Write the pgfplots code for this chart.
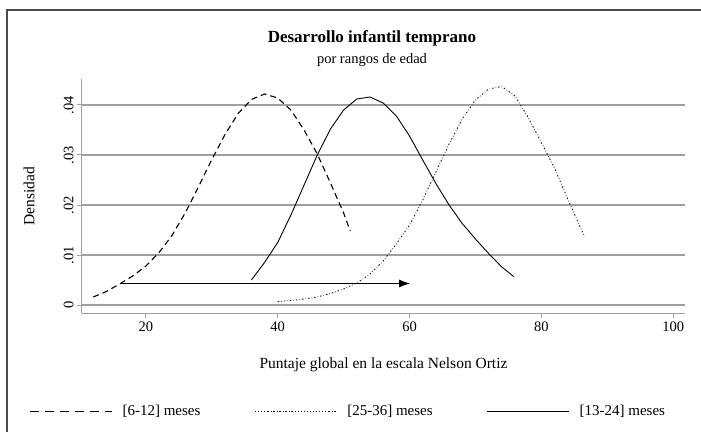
\documentclass[border=0pt]{standalone}
\usepackage{pgfplots}
\pgfplotsset{compat=1.18}
\usepackage{fontspec}
\setmainfont{Liberation Serif}
\usetikzlibrary{arrows.meta}
\begin{document}
\begin{tikzpicture}[x=1pt,y=1pt]
\begin{axis}[
  scale only axis,
  width=603pt, height=234pt,
  xmin=10.3, xmax=101.8, ymin=-0.0016, ymax=0.0452,
  axis x line*=bottom, axis y line*=left,
  axis line style={gray!75, line width=1pt, -},
  xtick={20,40,60,80,100},
  ytick={0,0.01,0.02,0.03,0.04},
  yticklabels={0,.01,.02,.03,.04},
  scaled y ticks=false,
  ymajorgrids, grid style={gray!75, line width=1.3pt},
  tick style={gray!75, line width=1pt},
  tick align=outside, major tick length=5pt,
  /pgf/number format/assume math mode=true,
  ticklabel style={font=\fontsize{14.5}{16}\selectfont},
  yticklabel style={rotate=90, anchor=south},
  xlabel={Puntaje global en la escala Nelson Ortiz},
  ylabel={Densidad},
  label style={font=\fontsize{15.5}{18}\selectfont},
  xlabel style={at={(axis description cs:0.5,-0.175)}, anchor=north},
  ylabel style={at={(axis description cs:-0.073,0.5)}, anchor=south},
  legend columns=3,
  legend style={draw=none, fill=none, at={(0.4415,-0.419)}, anchor=center,
    font=\fontsize{15}{18}\selectfont, inner sep=0pt,
    /tikz/every odd column/.append style={column sep=8pt},
    /tikz/every even column/.append style={column sep=52pt}},
  legend image code/.code={\draw[#1] (0pt,0pt) -- (82pt,0pt);},
  legend cell align=left,
]
\coordinate (O) at (rel axis cs:0,0);
\addplot[black, line width=1.1pt, dash pattern=on 6pt off 4pt, forget plot] coordinates {
(12,0.0016) (14,0.0027) (16,0.0042) (18,0.0058) (20,0.0078) (22,0.0105)
(24,0.0140) (26,0.0185) (28,0.0237) (30,0.0291) (32,0.0341) (34,0.0383)
(36,0.0411) (38,0.0422) (40,0.0414) (42,0.0390) (44,0.0350) (46,0.0302)
(48,0.0244) (50,0.0184) (51,0.0148)};
\addplot[black!90, line width=0.9pt, dash pattern=on 1.5pt off 2pt on 0.6pt off 2pt, forget plot] coordinates {
(40,0.0007) (42,0.0009) (44,0.0012) (46,0.0016) (48,0.0023) (50,0.0032)
(52,0.0044) (54,0.0062) (56,0.0088) (58,0.0122) (60,0.0160) (62,0.0210)
(64,0.0266) (66,0.0322) (68,0.0372) (70,0.0410) (72,0.0432) (74,0.0437)
(76,0.0418) (78,0.0375) (80,0.0325) (82,0.0274) (84,0.0212) (86,0.0153)
(86.6,0.0137)};
\addplot[black, line width=0.9pt, forget plot] coordinates {
(36,0.0050) (38,0.0085) (40,0.0125) (42,0.0180) (44,0.0240) (46,0.0300)
(48,0.0352) (50,0.0390) (52,0.0412) (54,0.0416) (56,0.0404) (58,0.0378)
(60,0.0338) (62,0.0290) (64,0.0243) (66,0.0200) (68,0.0163) (70,0.0132)
(72,0.0103) (74,0.0076) (75.8,0.0057)};
\addplot[black, line width=1.1pt, -{Latex[length=11pt,width=8pt]}, forget plot] coordinates {(16.2,0.0043) (60.1,0.0043)};
\addlegendimage{black, line width=1.1pt, dash pattern=on 9pt off 6pt}
\addlegendentry{[6-12] meses}
\addlegendimage{black!90, line width=0.9pt, dash pattern=on 1.5pt off 2pt on 0.6pt off 2pt}
\addlegendentry{[25-36] meses}
\addlegendimage{black, line width=0.9pt}
\addlegendentry{[13-24] meses}
\end{axis}
\pgfresetboundingbox
\begin{scope}[shift={(O)}]
\begin{scope}[shift={(-82,-118)}]
\path[use as bounding box] (0,0) rectangle (701,431);
\draw[line width=1.3pt, black!70] (7,-20) -- (7,421) -- (720,421);
\node[font=\bfseries\fontsize{17}{20}\selectfont] at (372,393) {Desarrollo infantil temprano};
\node[font=\fontsize{14.5}{17}\selectfont] at (372,371) {por rangos de edad};
\end{scope}
\end{scope}
\end{tikzpicture}
\end{document}
